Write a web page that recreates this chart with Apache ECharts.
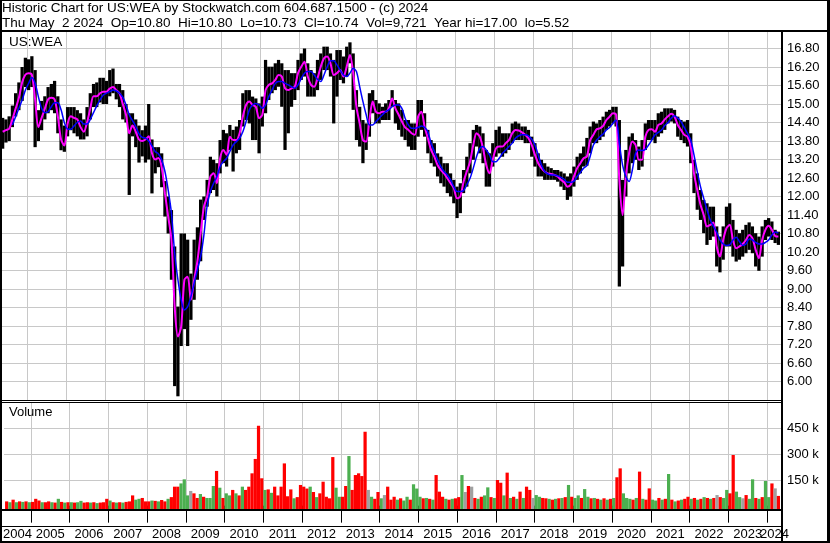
<!DOCTYPE html>
<html><head><meta charset="utf-8">
<script src="https://cdn.jsdelivr.net/npm/echarts@6/dist/echarts.min.js"></script>
<style>html,body{margin:0;padding:0;background:#fff}#c{width:830px;height:543px}</style>
</head><body><div id="c"></div>
<script>
const months = [
'2004-05','2004-06','2004-07','2004-08','2004-09','2004-10','2004-11','2004-12',
'2005-01','2005-02','2005-03','2005-04','2005-05','2005-06','2005-07','2005-08','2005-09','2005-10','2005-11','2005-12',
'2006-01','2006-02','2006-03','2006-04','2006-05','2006-06','2006-07','2006-08','2006-09','2006-10','2006-11','2006-12',
'2007-01','2007-02','2007-03','2007-04','2007-05','2007-06','2007-07','2007-08','2007-09','2007-10','2007-11','2007-12',
'2008-01','2008-02','2008-03','2008-04','2008-05','2008-06','2008-07','2008-08','2008-09','2008-10','2008-11','2008-12',
'2009-01','2009-02','2009-03','2009-04','2009-05','2009-06','2009-07','2009-08','2009-09','2009-10','2009-11','2009-12',
'2010-01','2010-02','2010-03','2010-04','2010-05','2010-06','2010-07','2010-08','2010-09','2010-10','2010-11','2010-12',
'2011-01','2011-02','2011-03','2011-04','2011-05','2011-06','2011-07','2011-08','2011-09','2011-10','2011-11','2011-12',
'2012-01','2012-02','2012-03','2012-04','2012-05','2012-06','2012-07','2012-08','2012-09','2012-10','2012-11','2012-12',
'2013-01','2013-02','2013-03','2013-04','2013-05','2013-06','2013-07','2013-08','2013-09','2013-10','2013-11','2013-12',
'2014-01','2014-02','2014-03','2014-04','2014-05','2014-06','2014-07','2014-08','2014-09','2014-10','2014-11','2014-12',
'2015-01','2015-02','2015-03','2015-04','2015-05','2015-06','2015-07','2015-08','2015-09','2015-10','2015-11','2015-12',
'2016-01','2016-02','2016-03','2016-04','2016-05','2016-06','2016-07','2016-08','2016-09','2016-10','2016-11','2016-12',
'2017-01','2017-02','2017-03','2017-04','2017-05','2017-06','2017-07','2017-08','2017-09','2017-10','2017-11','2017-12',
'2018-01','2018-02','2018-03','2018-04','2018-05','2018-06','2018-07','2018-08','2018-09','2018-10','2018-11','2018-12',
'2019-01','2019-02','2019-03','2019-04','2019-05','2019-06','2019-07','2019-08','2019-09','2019-10','2019-11','2019-12',
'2020-01','2020-02','2020-03','2020-04','2020-05','2020-06','2020-07','2020-08','2020-09','2020-10','2020-11','2020-12',
'2021-01','2021-02','2021-03','2021-04','2021-05','2021-06','2021-07','2021-08','2021-09','2021-10','2021-11','2021-12',
'2022-01','2022-02','2022-03','2022-04','2022-05','2022-06','2022-07','2022-08','2022-09','2022-10','2022-11','2022-12',
'2023-01','2023-02','2023-03','2023-04','2023-05','2023-06','2023-07','2023-08','2023-09','2023-10','2023-11','2023-12',
'2024-01','2024-02','2024-03','2024-04'
];
const high = [
14.55,14.50,14.60,14.95,15.35,15.70,16.20,16.50,
16.45,16.55,16.10,14.80,15.10,15.25,15.55,15.65,15.75,15.25,14.50,14.30,
14.90,14.90,14.90,14.80,14.70,14.50,14.90,15.35,15.65,15.70,15.85,15.85,
15.75,16.10,16.15,15.65,15.65,15.45,15.00,14.70,14.70,14.50,14.30,14.15,
14.30,15.00,13.85,13.60,13.60,13.40,12.50,12.00,11.56,10.38,8.43,10.80,
10.80,10.60,9.50,10.60,11.00,11.90,12.00,12.54,13.29,13.19,13.08,13.83,
14.16,14.05,14.32,14.16,14.27,14.48,15.35,15.45,15.45,15.24,15.18,15.02,
15.24,16.43,16.21,16.21,16.32,16.43,16.32,16.10,16.10,16.00,16.00,16.43,
16.64,16.80,16.32,16.10,16.00,16.43,16.64,16.86,16.86,16.64,16.43,16.75,
16.75,16.54,16.86,17.00,16.64,15.45,14.91,14.48,14.37,15.35,15.45,15.13,
15.02,14.91,15.02,15.13,15.45,15.13,15.02,14.81,14.48,14.48,14.37,14.37,
15.13,15.13,14.70,14.16,13.83,13.73,13.40,13.29,13.08,13.08,12.75,12.54,
12.32,12.43,12.86,13.29,13.73,14.16,14.32,14.27,14.05,13.51,13.40,13.73,
14.16,14.27,14.05,14.05,14.05,14.37,14.43,14.37,14.27,14.27,14.16,13.94,
13.73,13.40,13.19,13.08,12.97,12.92,12.86,12.86,12.81,12.75,12.65,12.75,
12.97,13.29,13.40,13.62,13.90,14.27,14.43,14.37,14.48,14.59,14.75,14.81,
14.91,14.91,14.48,12.54,13.51,13.94,14.05,13.83,13.62,13.83,14.37,14.48,
14.48,14.48,14.70,14.75,14.86,14.86,14.86,14.81,14.59,14.48,14.43,14.48,
14.05,13.19,12.75,12.21,11.89,11.78,11.67,11.67,11.03,10.70,11.03,11.67,
11.78,11.24,10.92,10.81,10.92,11.08,11.16,11.03,10.81,10.70,11.03,11.24,
11.30,11.19,10.92,10.86
];
const low = [
13.55,13.75,13.80,14.25,14.60,14.80,15.10,15.55,
15.45,15.55,13.60,13.80,14.15,14.50,14.70,14.80,14.70,14.05,13.50,13.45,
13.95,14.15,14.05,13.95,13.85,13.85,13.95,14.50,14.90,14.90,15.05,15.00,
15.00,15.25,15.35,15.15,14.90,14.50,14.40,12.05,13.95,13.60,13.10,13.30,
13.10,13.20,12.10,12.75,12.95,12.30,11.35,10.80,9.30,5.85,5.52,7.15,
7.70,7.15,8.00,8.65,9.30,9.90,11.24,11.67,12.11,12.21,12.00,12.75,
13.08,12.97,13.51,12.81,13.40,13.51,14.27,14.48,14.37,13.83,13.83,13.40,
14.27,14.70,15.13,15.35,15.45,15.56,14.91,13.51,14.05,14.91,15.13,15.45,
15.78,15.89,15.24,15.24,15.24,15.45,15.78,16.10,16.10,15.89,14.37,15.24,
15.78,15.67,15.89,16.32,14.81,13.83,13.62,13.08,13.51,13.94,14.70,14.37,
14.37,14.48,14.48,14.48,14.91,14.37,14.16,13.94,13.83,13.62,13.51,13.51,
13.94,14.16,13.94,13.40,13.08,12.97,12.65,12.43,12.32,12.11,12.00,11.78,
11.30,11.46,12.11,12.32,12.75,13.19,13.62,13.40,13.08,12.32,12.32,12.97,
13.29,13.40,13.29,13.40,13.51,13.73,13.83,13.83,13.83,13.73,13.73,13.29,
12.97,12.65,12.65,12.54,12.54,12.54,12.54,12.48,12.32,12.21,11.89,12.00,
12.32,12.54,12.75,12.97,13.00,13.40,13.73,13.73,13.83,13.94,14.16,14.27,
14.37,14.27,9.08,9.73,12.00,12.75,13.08,13.19,12.86,12.97,13.51,13.83,
13.83,13.73,13.94,14.05,14.16,14.37,14.43,14.37,13.94,13.83,13.73,13.62,
13.08,12.11,11.57,11.24,10.81,10.43,10.59,10.70,9.73,9.54,9.95,10.38,
10.38,10.05,9.89,9.95,10.05,10.16,10.27,10.16,9.73,9.59,10.05,10.59,
10.70,10.59,10.49,10.43
];
const maFast = [
14.10,14.15,14.20,14.50,14.85,15.20,15.70,15.95,
16.00,15.95,15.15,14.25,14.55,14.85,15.15,15.20,15.15,14.60,13.85,13.65,
14.35,14.60,14.55,14.50,14.25,14.10,14.40,14.85,15.25,15.25,15.35,15.40,
15.40,15.50,15.55,15.45,15.35,15.00,14.65,14.05,14.30,14.10,13.85,13.80,
13.85,13.95,13.40,13.20,13.25,12.95,12.10,11.35,10.60,8.43,7.46,7.78,
9.30,9.40,8.65,9.30,9.90,10.80,11.67,12.00,12.65,12.75,12.43,13.24,
13.51,13.35,13.94,13.83,13.83,14.05,14.59,14.97,15.08,14.97,14.91,14.54,
14.65,15.45,15.62,15.67,15.78,15.94,15.89,15.51,15.45,15.51,15.56,16.00,
16.21,16.37,15.89,15.62,15.56,15.83,16.21,16.48,16.54,16.32,15.94,16.00,
16.10,15.89,16.21,16.59,16.00,14.91,14.37,13.83,13.78,14.48,15.08,14.75,
14.70,14.75,14.75,14.86,15.18,14.86,14.65,14.43,14.24,14.16,14.05,14.00,
14.59,14.75,14.27,13.89,13.51,13.29,13.02,12.86,12.75,12.59,12.43,12.27,
11.94,12.00,12.48,12.81,13.13,13.67,14.05,13.94,13.56,13.02,12.75,13.19,
13.56,13.62,13.62,13.73,13.83,14.05,14.16,14.14,14.08,14.00,13.89,13.67,
13.35,13.08,12.92,12.81,12.75,12.73,12.70,12.65,12.54,12.46,12.32,12.38,
12.65,12.92,13.08,13.24,13.30,13.83,14.00,14.18,14.21,14.29,14.48,14.59,
14.70,14.65,12.54,11.40,12.65,13.40,13.78,13.67,13.19,13.19,13.94,14.16,
14.18,14.10,14.32,14.37,14.50,14.60,14.68,14.59,14.32,14.16,14.00,13.94,
13.62,12.75,12.21,11.73,11.40,11.03,11.08,11.16,10.38,10.05,10.59,10.97,
11.08,10.59,10.32,10.38,10.46,10.59,10.75,10.65,10.27,10.00,10.59,10.92,
11.05,10.92,10.72,10.70
];
const maSlow = [
null,null,null,14.32,14.59,14.86,15.13,15.45,
15.67,15.86,15.67,15.24,14.86,14.72,14.75,14.91,15.04,15.04,14.81,14.40,
14.19,14.18,14.29,14.40,14.45,14.35,14.35,14.50,14.72,14.94,15.13,15.29,
15.35,15.40,15.45,15.42,15.35,15.22,14.97,14.65,14.46,14.27,14.03,13.92,
13.89,13.80,13.64,13.46,13.38,13.19,12.81,12.21,11.46,10.16,9.30,8.65,
8.32,8.43,8.75,9.19,9.62,10.05,10.75,11.70,12.16,12.43,12.65,12.97,
13.13,13.24,13.46,13.67,13.78,13.89,14.10,14.43,14.81,14.97,15.02,14.97,
14.86,14.97,15.24,15.45,15.67,15.73,15.73,15.67,15.62,15.56,15.51,15.62,
15.83,16.00,16.05,16.05,15.94,15.80,15.73,15.94,16.21,16.40,16.40,16.27,
16.10,15.94,15.89,16.00,16.16,16.05,15.56,15.08,14.65,14.32,14.32,14.43,
14.54,14.65,14.75,14.81,14.91,14.97,14.97,14.86,14.54,14.32,14.21,14.21,
14.24,14.29,14.24,14.10,13.73,13.46,13.19,12.97,12.81,12.70,12.54,12.32,
12.16,12.16,12.19,12.38,12.59,12.92,13.29,13.56,13.62,13.51,13.35,13.13,
13.13,13.24,13.40,13.51,13.62,13.73,13.89,13.97,14.00,14.00,13.97,13.86,
13.67,13.35,13.02,12.81,12.73,12.70,12.70,12.67,12.62,12.56,12.46,12.46,
12.49,12.65,12.78,12.92,13.00,13.30,13.67,13.83,13.94,14.03,14.16,14.24,
14.37,14.48,13.73,13.02,12.65,12.49,12.86,13.40,13.51,13.49,13.53,13.67,
13.83,14.00,14.08,14.16,14.30,14.40,14.54,14.62,14.54,14.43,14.24,14.05,
13.83,13.35,12.81,12.32,11.94,11.57,11.24,11.03,10.84,10.59,10.46,10.41,
10.43,10.59,10.68,10.54,10.41,10.46,10.62,10.59,10.51,10.46,10.46,10.51,
10.59,10.75,10.85,10.81
];
// monthly volume in thousands of shares, and bar colour code (r = down, g = up, x = unchanged)
const volume = [
25,20,35,20,25,22,25,20,
22,40,30,20,20,25,20,18,40,22,18,20,
20,18,20,28,18,20,18,20,15,18,20,40,
30,20,18,20,18,22,25,60,35,40,45,25,
25,30,28,25,33,25,40,50,111,111,130,154,
60,86,72,45,68,52,45,45,115,203,105,45,
72,60,92,72,60,111,92,111,189,273,467,160,
92,95,75,111,60,111,247,55,95,43,50,121,
111,100,111,80,50,72,140,52,43,284,105,52,
52,115,290,92,179,189,173,432,92,52,40,80,
43,62,111,35,52,35,43,30,52,35,125,100,
52,43,45,40,35,179,82,52,40,35,40,43,
50,179,80,115,111,45,40,52,60,107,50,45,
150,134,60,193,45,52,40,82,45,111,92,45,
62,52,45,43,40,35,40,43,45,50,121,52,
45,60,45,97,52,43,45,40,35,43,35,40,
45,166,218,72,45,40,35,45,199,40,35,101,
35,30,45,35,40,185,35,25,30,35,40,52,
40,45,35,40,50,45,40,45,62,50,45,92,
72,296,82,50,43,62,40,154,45,40,50,144,
50,130,101,57
];
const volDir = [
'r','g','r','g','r','g','r','g',
'r','r','r','g','r','r','g','r','g','r','g','r',
'g','r','g','g','r','r','g','r','g','r','r','r',
'g','r','g','r','g','r','r','r','g','g','r','r',
'r','g','r','g','r','r','g','r','r','r','g','g',
'g','x','r','r','g','r','g','g','g','r','g','r',
'g','g','r','g','r','g','r','r','r','r','r','r',
'g','r','g','r','r','r','r','r','r','g','r','r',
'r','r','g','r','g','r','r','r','r','r','g','g',
'r','r','g','r','r','r','r','r','x','g','r','r',
'g','x','r','r','r','g','r','g','g','r','g','g',
'g','r','g','r','g','r','r','r','g','r','g','r',
'r','g','x','r','x','r','g','r','g','g','r','g',
'r','r','g','r','g','r','g','r','g','r','r','x',
'g','g','r','r','g','r','g','r','g','r','g','r',
'g','g','r','g','g','r','g','r','g','r','g','r',
'g','r','r','g','g','g','r','g','r','g','r','r',
'g','g','r','g','r','g','r','g','r','g','r','r',
'g','r','g','r','g','r','g','r','x','r','g','g',
'r','r','g','g','x','r','g','g','r','g','r','g',
'g','r','x','r'
];
const priceTicks = [6.00,6.60,7.20,7.80,8.40,9.00,9.60,10.20,10.80,11.40,12.00,12.60,13.20,13.80,14.40,15.00,15.60,16.20,16.80];
const volumeTicks = [150,300,450];
const yearTicks = [2005,2006,2007,2008,2009,2010,2011,2012,2013,2014,2015,2016,2017,2018,2019,2020,2021,2022,2023,2024];
const yearLabels = [2004,2005,2006,2007,2008,2009,2010,2011,2012,2013,2014,2015,2016,2017,2018,2019,2020,2021,2022,2023,2024];
const titleLine1 = 'Historic Chart for US:WEA by Stockwatch.com 604.687.1500 - (c) 2024';
const titleLine2 = 'Thu May  2 2024  Op=10.80  Hi=10.80  Lo=10.73  Cl=10.74  Vol=9,721  Year hi=17.00  lo=5.52';

// ---- layout ----
const X_MIN = 2004.3068, X_MAX = 2024.3845;
const FONT = '"Liberation Sans", Arial, sans-serif';
const GRID = '#c8c8c8';
const COLORS = {r:'#ff0000', g:'#4caf50', x:'#a0a0a0'};
const toX = m => { const p = m.split('-'); return +p[0] + (+p[1] - 0.5) / 12; };
const HALF = 1 / 24;
const labelPos = yearLabels.map(y => (Math.max(y, X_MIN) + Math.min(y + 1, X_MAX)) / 2);
const mainLabelPos = labelPos.slice(0, labelPos.length - 1);
const lastLabelPos = labelPos.slice(labelPos.length - 1);
const yearFmt = v => String(Math.floor(v));
const labelStyle = {color: '#000', fontSize: 13, fontFamily: FONT};

const chart = echarts.init(document.getElementById('c'), null, {renderer: 'canvas'});
const blk = (x, y, w, h) => ({type: 'rect', shape: {x, y, width: w, height: h}, style: {fill: '#000'}, z: 100, silent: true});

chart.setOption({
  animation: false,
  backgroundColor: '#fff',
  grid: [
    {left: 0, top: 32, width: 782, height: 368},
    {left: 0, top: 403, width: 782, height: 106}
  ],
  xAxis: [
    {gridIndex: 0, type: 'value', position: 'bottom', min: X_MIN, max: X_MAX,
     axisLine: {show: false}, axisTick: {show: false, customValues: yearTicks}, axisLabel: {show: false},
     splitLine: {show: true, lineStyle: {color: GRID, width: 1}}},
    {gridIndex: 1, type: 'value', position: 'bottom', min: X_MIN, max: X_MAX,
     axisLine: {show: false},
     axisTick: {show: true, customValues: yearTicks, length: 17, lineStyle: {color: '#000', width: 1}},
     axisLabel: Object.assign({show: true, customValues: mainLabelPos, formatter: yearFmt, margin: 19,
                 showMinLabel: true, showMaxLabel: true, hideOverlap: false}, labelStyle),
     splitLine: {show: true, lineStyle: {color: GRID, width: 1}}},
    {gridIndex: 1, type: 'value', position: 'bottom', offset: 0, min: X_MIN, max: X_MAX,
     axisLine: {show: false}, axisTick: {show: false, customValues: lastLabelPos},
     axisLabel: Object.assign({show: true, customValues: lastLabelPos, formatter: yearFmt, margin: 19,
                 showMinLabel: true, showMaxLabel: true}, labelStyle),
     splitLine: {show: false}}
  ],
  yAxis: [
    {gridIndex: 0, type: 'value', position: 'right', min: 5.4, max: 17.335,
     axisLine: {show: false}, axisTick: {show: false, customValues: priceTicks},
     axisLabel: Object.assign({customValues: priceTicks, formatter: v => v.toFixed(2), margin: 5,
                 showMinLabel: true, showMaxLabel: true}, labelStyle),
     splitLine: {show: true, lineStyle: {color: GRID, width: 1}}},
    {gridIndex: 1, type: 'value', position: 'right', min: -19.5, max: 600,
     axisLine: {show: false}, axisTick: {show: false, customValues: volumeTicks},
     axisLabel: Object.assign({customValues: volumeTicks, formatter: v => v + ' k', margin: 5,
                 showMinLabel: true, showMaxLabel: true}, labelStyle),
     splitLine: {show: true, lineStyle: {color: GRID, width: 1}}}
  ],
  series: [
    {type: 'custom', xAxisIndex: 0, yAxisIndex: 0, clip: true, silent: true, z: 2,
     data: months.map((m, i) => [toX(m), low[i], high[i]]),
     encode: {x: 0, y: [1, 2]},
     renderItem: (p, api) => {
       const x = api.value(0);
       const a = api.coord([x - HALF, api.value(2)]);
       const b = api.coord([x + HALF, api.value(1)]);
       return {type: 'rect', shape: {x: a[0], y: a[1], width: b[0] - a[0], height: Math.max(1, b[1] - a[1])}, style: {fill: '#000'}};
     }},
    {type: 'line', xAxisIndex: 0, yAxisIndex: 0, silent: true, z: 3, showSymbol: false, smooth: 0.3,
     data: months.map((m, i) => [toX(m), maFast[i]]),
     lineStyle: {color: '#ff00ff', width: 2}},
    {type: 'line', xAxisIndex: 0, yAxisIndex: 0, silent: true, z: 4, showSymbol: false, smooth: 0.3, connectNulls: false,
     data: months.map((m, i) => [toX(m), maSlow[i]]),
     lineStyle: {color: '#0000ff', width: 1.5}},
    {type: 'custom', xAxisIndex: 1, yAxisIndex: 1, clip: true, silent: true, z: 2,
     data: months.map((m, i) => [toX(m), volume[i], volDir[i]]),
     encode: {x: 0, y: 1},
     renderItem: (p, api) => {
       const x = api.value(0);
       const a = api.coord([x - HALF, api.value(1)]);
       const b = api.coord([x + HALF, -19.5]);
       const d = volDir[p.dataIndex];
       return {type: 'rect', shape: {x: a[0], y: a[1], width: b[0] - a[0], height: b[1] - a[1]}, style: {fill: COLORS[d]}};
     }}
  ],
  graphic: [
    {type: 'text', x: 2, y: 1, z: 100, silent: true, style: {text: titleLine1, font: '13.5px ' + FONT, fill: '#000', verticalAlign: 'top'}},
    {type: 'text', x: 2, y: 16, z: 100, silent: true, style: {text: titleLine2, font: '13.5px ' + FONT, fill: '#000', verticalAlign: 'top'}},
    {type: 'text', x: 9, y: 35, z: 100, silent: true, style: {text: 'US:WEA', font: '13.5px ' + FONT, fill: '#000', verticalAlign: 'top'}},
    {type: 'text', x: 9, y: 406, z: 100, silent: true, style: {text: 'Volume', font: '13px ' + FONT, fill: '#000', verticalAlign: 'top'}},
    blk(0, 0, 830, 1),
    blk(0, 0, 2, 543),
    blk(827, 0, 3, 543),
    blk(0, 541, 830, 2),
    blk(0, 30, 830, 2),
    blk(781, 30, 2, 513),
    blk(0, 400, 781, 1),
    blk(0, 402, 781, 1),
    blk(0, 509, 781, 2),
    blk(0, 526, 781, 1)
  ]
});
</script></body></html>
